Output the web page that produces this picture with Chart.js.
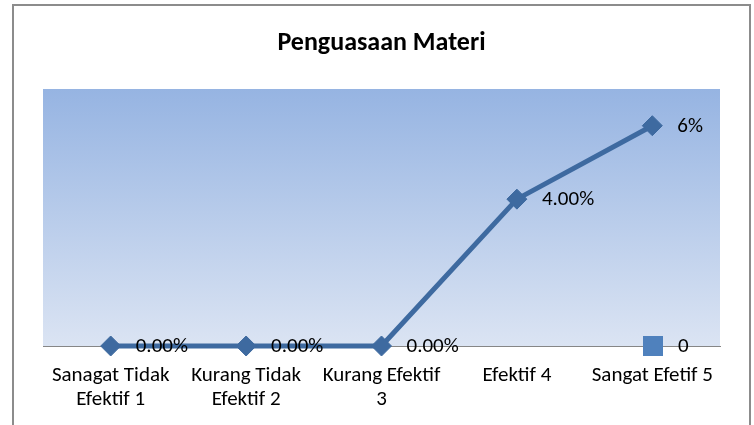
<!DOCTYPE html>
<html>
<head>
<meta charset="utf-8">
<script src="https://cdn.jsdelivr.net/npm/chart.js@4.4.1/dist/chart.umd.min.js"></script>
<style>
  html, body { margin: 0; padding: 0; width: 754px; height: 425px; overflow: hidden; background: #fff; }
  #frame { position: absolute; left: 12px; top: 4px; width: 735px; height: 440px; border: 2px solid #8c8c8c; }
  #chart { position: absolute; left: 0; top: 0; }
</style>
</head>
<body>
<div id="frame"></div>
<canvas id="chart" width="754" height="425"></canvas>
<script>
const categories = [
  ["Sanagat Tidak", "Efektif 1"],
  ["Kurang Tidak", "Efektif 2"],
  ["Kurang Efektif", "3"],
  "Efektif 4",
  "Sangat Efetif 5"
];
const values = [0, 0, 0, 0.04, 0.06];
const valueLabels = ["0.00%", "0.00%", "0.00%", "4.00%", "6%"];
const seriesName = "0";
const yMin = 0;
const yMax = 0.07;

const fontFamily = "Carlito, Lato, sans-serif";
const lineColor = "#3e6aa0";

Chart.defaults.font.family = fontFamily;
Chart.defaults.color = "#000";

// gradient fill behind the plot area
const plotBackground = {
  id: 'plotBackground',
  beforeDraw(chart) {
    const {ctx, chartArea: a} = chart;
    const g = ctx.createLinearGradient(0, a.top, 0, a.bottom);
    g.addColorStop(0, '#96b4e2');
    g.addColorStop(1, '#dbe4f3');
    ctx.save();
    ctx.fillStyle = g;
    ctx.fillRect(a.left, a.top, a.right - a.left, a.bottom - a.top);
    ctx.restore();
  }
};

// value labels to the right of each point
const pointLabels = {
  id: 'pointLabels',
  afterDatasetsDraw(chart) {
    const ctx = chart.ctx;
    const meta = chart.getDatasetMeta(0);
    ctx.save();
    ctx.font = "21px " + fontFamily;
    ctx.fillStyle = '#000';
    ctx.textAlign = 'left';
    ctx.textBaseline = 'middle';
    meta.data.forEach((pt, i) => {
      ctx.fillText(valueLabels[i], pt.x + 25, pt.y + 1);
    });
    ctx.restore();
  }
};

// legend sits inside the plot, bottom right
const innerLegend = {
  id: 'innerLegend',
  afterDraw(chart) {
    const {ctx, chartArea: a} = chart;
    ctx.save();
    ctx.fillStyle = '#4f81bd';
    ctx.fillRect(a.right - 77, a.bottom - 10, 20, 20);
    ctx.font = "21px " + fontFamily;
    ctx.fillStyle = '#000';
    ctx.textAlign = 'left';
    ctx.textBaseline = 'middle';
    ctx.fillText(seriesName, a.right - 42, a.bottom + 1);
    ctx.restore();
  }
};

new Chart(document.getElementById('chart'), {
  type: 'line',
  data: {
    labels: categories,
    datasets: [{
      label: seriesName,
      data: values,
      borderColor: lineColor,
      backgroundColor: lineColor,
      borderWidth: 5,
      pointStyle: 'rectRot',
      pointRadius: 10,
      pointBorderWidth: 1,
      pointBackgroundColor: lineColor,
      pointBorderColor: lineColor,
      tension: 0,
      clip: false
    }]
  },
  options: {
    responsive: false,
    devicePixelRatio: 1,
    animation: false,
    layout: { padding: { top: 28, left: 43, right: 34, bottom: 0 } },
    plugins: {
      legend: { display: false },
      tooltip: { enabled: false },
      title: {
        display: true,
        text: 'Penguasaan Materi',
        color: '#000',
        font: { family: fontFamily, size: 26, weight: 'bold' },
        padding: { top: 0, bottom: 29.8 }
      }
    },
    scales: {
      x: {
        offset: true,
        grid: { display: false, drawTicks: false },
        border: { display: true, color: '#868686', width: 1 },
        ticks: {
          color: '#000',
          font: { size: 21, lineHeight: 1.14 },
          padding: 18,
          maxRotation: 0,
          autoSkip: false
        },
        afterFit(scale) { scale.height = 79; }
      },
      y: {
        display: false,
        min: yMin,
        max: yMax
      }
    }
  },
  plugins: [plotBackground, pointLabels, innerLegend]
});
</script>
</body>
</html>
